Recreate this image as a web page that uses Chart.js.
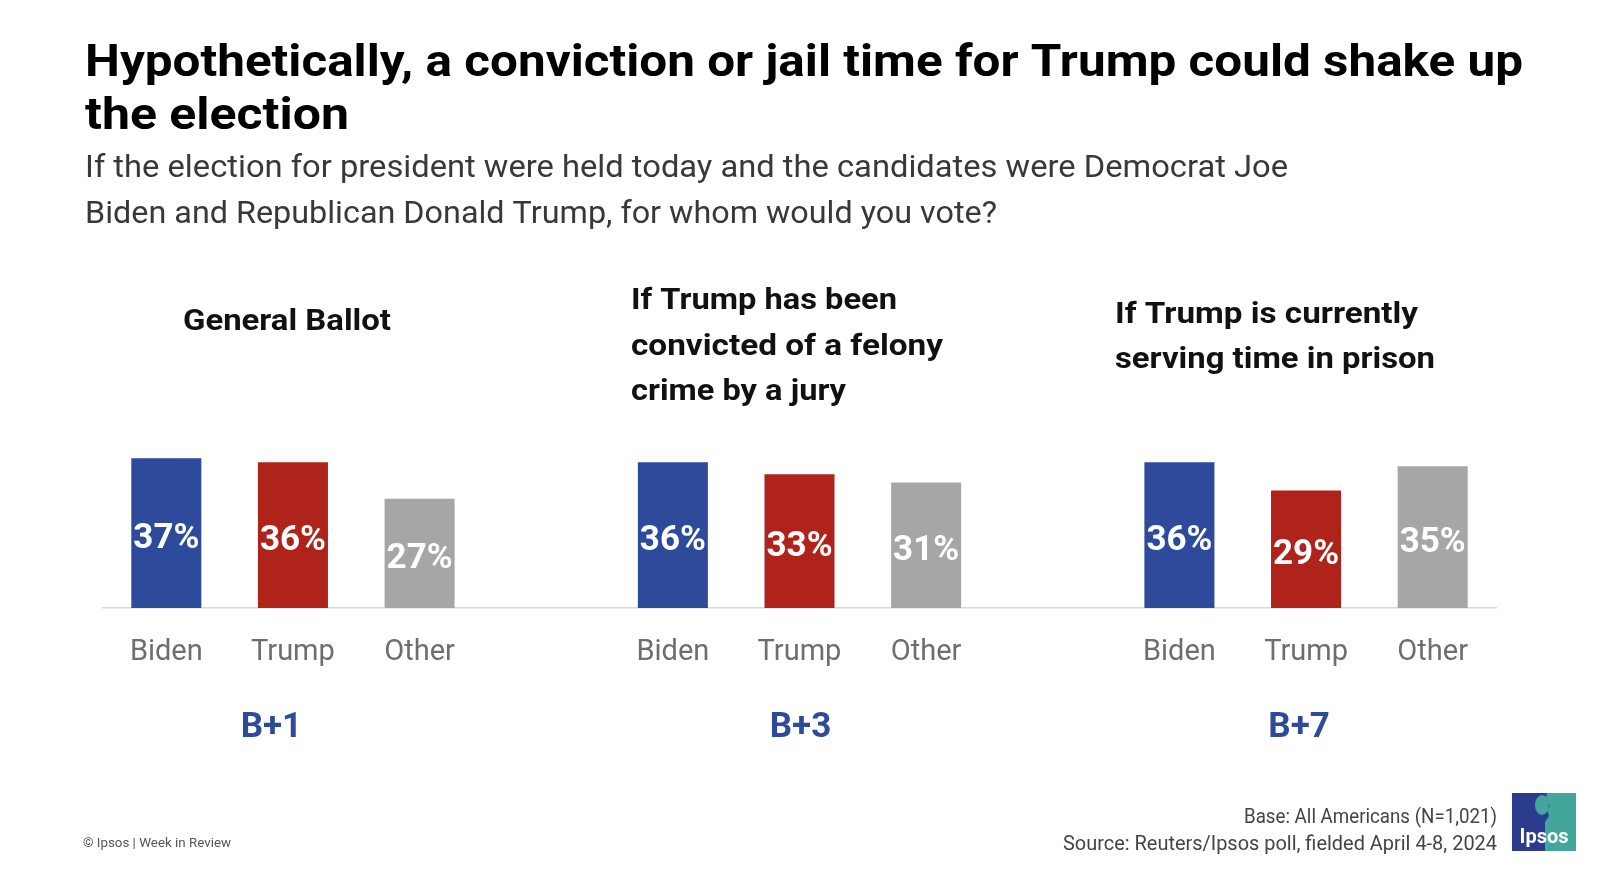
<!DOCTYPE html>
<html>
<head>
<meta charset="utf-8">
<script src="https://cdn.jsdelivr.net/npm/chart.js@4/dist/chart.umd.min.js"></script>
<style>
html,body{margin:0;padding:0;background:#fff;overflow:hidden}
#wrap{position:absolute;left:0;top:0;width:1600px;height:879px}
</style>
</head>
<body>
<div id="wrap"><canvas id="c" width="1600" height="879"></canvas></div>
<script>
// ---- data ----
const panelTitles = [
  ["General Ballot"],
  ["If Trump has been", "convicted of a felony", "crime by a jury"],
  ["If Trump is currently", "serving time in prison"]
];
const candidates = ["Biden", "Trump", "Other"];
const bidenValues = [37, 36, 36];
const trumpValues = [36, 33, 29];
const otherValues = [27, 31, 35];
const yMax = 40;

const titleLines = ["Hypothetically, a conviction or jail time for Trump could shake up", "the election"];
const subtitleLines = ["If the election for president were held today and the candidates were Democrat Joe",
  "Biden and Republican Donald Trump, for whom would you vote?"];
const baseNote = "Base: All Americans (N=1,021)";
const sourceNote = "Source: Reuters/Ipsos poll, fielded April 4-8, 2024";
const copyrightNote = "© Ipsos | Week in Review";

// ---- styles ----
const COLORS = { Biden: "#2E4A9B", Trump: "#B0231A", Other: "#A6A6A6" };
const FONT = "Roboto, 'Open Sans', sans-serif";

// ---- build chart table ----
const labels = [];
const values = [];
const barColors = [];
for (let p = 0; p < 3; p++) {
  const v = [bidenValues[p], trumpValues[p], otherValues[p]];
  candidates.forEach((c, i) => { labels.push(c); values.push(v[i]); barColors.push(COLORS[c]); });
  if (p < 2) { labels.push(""); values.push(null); barColors.push("rgba(0,0,0,0)"); }
}

function fitText(ctx, text, x, y, font, color, width, align) {
  ctx.save();
  ctx.font = font;
  ctx.fillStyle = color;
  ctx.textBaseline = "alphabetic";
  ctx.textAlign = align || "left";
  const w = ctx.measureText(text).width;
  const s = width ? width / w : 1;
  ctx.translate(x, y);
  ctx.scale(s, 1);
  ctx.fillText(text, 0, 0);
  ctx.restore();
}

const decor = {
  id: "decor",
  afterDraw(chart) {
    const ctx = chart.ctx;
    // title
    fitText(ctx, titleLines[0], 85, 76, "bold 44px " + FONT, "#000", 1438);
    fitText(ctx, titleLines[1], 85, 129, "bold 44px " + FONT, "#000", 264);
    // subtitle
    fitText(ctx, subtitleLines[0], 85, 177, "31px " + FONT, "#383838", 1203);
    fitText(ctx, subtitleLines[1], 85, 223, "31px " + FONT, "#383838", 912);
    // panel titles
    const ptPos = [
      { x: 183, y: [330], w: [208] },
      { x: 631, y: [309, 355, 400], w: [266, 312, 215] },
      { x: 1115, y: [323, 368], w: [303, 320] }
    ];
    panelTitles.forEach((lines, p) => {
      lines.forEach((t, i) => fitText(ctx, t, ptPos[p].x, ptPos[p].y[i], "bold 30px " + FONT, "#111", ptPos[p].w[i]));
    });
    // value labels
    const meta = chart.getDatasetMeta(0);
    meta.data.forEach((bar, i) => {
      const v = values[i];
      if (v == null) return;
      const cy = (bar.y + bar.base) / 2 + 2;
      ctx.save();
      ctx.font = "bold 35px " + FONT;
      ctx.fillStyle = "#fff";
      ctx.textAlign = "center";
      ctx.textBaseline = "alphabetic";
      ctx.fillText(v + "%", bar.x, cy + 12.5);
      ctx.restore();
    });
    // margins B+n
    const xs = chart.scales.x;
    const offsets = [-21.5, 1, -7];
    for (let p = 0; p < 3; p++) {
      const trumpIdx = p * 4 + 1;
      const cx = xs.getPixelForValue(trumpIdx) + offsets[p];
      const m = bidenValues[p] - trumpValues[p];
      ctx.save();
      ctx.font = "bold 35px " + FONT;
      ctx.fillStyle = "#2E4A9B";
      ctx.textAlign = "center";
      ctx.textBaseline = "alphabetic";
      ctx.fillText((m >= 0 ? "B+" : "T+") + Math.abs(m), cx, 737);
      ctx.restore();
    }
    // footer
    fitText(ctx, baseNote, 1497, 823, "20px " + FONT, "#444", 253, "right");
    fitText(ctx, sourceNote, 1497, 850, "20px " + FONT, "#444", 434, "right");
    fitText(ctx, copyrightNote, 83, 847, "13px " + FONT, "#555", 148);
    // logo
    ctx.save();
    ctx.fillStyle = "#2B3C8F";
    ctx.fillRect(1512, 793, 64, 58);
    ctx.fillStyle = "#43A69C";
    ctx.beginPath();
    ctx.moveTo(1547, 793); ctx.lineTo(1576, 793); ctx.lineTo(1576, 851); ctx.lineTo(1545, 851);
    ctx.lineTo(1545, 822); ctx.lineTo(1549, 816); ctx.lineTo(1547, 810); ctx.lineTo(1550, 806);
    ctx.lineTo(1546, 798); ctx.closePath(); ctx.fill();
    ctx.beginPath(); ctx.ellipse(1542, 805, 7, 10, 0, 0, Math.PI * 2); ctx.fill();
    ctx.fillStyle = "#fff";
    ctx.font = "bold 20px " + FONT;
    ctx.textAlign = "center";
    ctx.fillText("Ipsos", 1544, 843);
    ctx.restore();
  }
};

new Chart(document.getElementById("c"), {
  type: "bar",
  data: {
    labels: labels,
    datasets: [{
      data: values,
      backgroundColor: barColors,
      borderWidth: 0,
      barPercentage: 0.553,
      categoryPercentage: 1
    }]
  },
  options: {
    responsive: false,
    animation: false,
    devicePixelRatio: 1,
    layout: { padding: { left: 103, right: 104, top: 446, bottom: 0 } },
    plugins: { legend: { display: false }, tooltip: { enabled: false }, title: { display: false } },
    scales: {
      y: { display: false, min: 0, max: yMax },
      x: {
        afterFit(s) { s.height = 271; },
        grid: { display: false, drawTicks: false },
        border: { display: true, color: "#DADADA", width: 1.5 },
        ticks: { color: "#6E6E6E", font: { family: FONT, size: 29 }, padding: 27, maxRotation: 0, autoSkip: false }
      }
    }
  },
  plugins: [decor]
});
</script>
</body>
</html>
